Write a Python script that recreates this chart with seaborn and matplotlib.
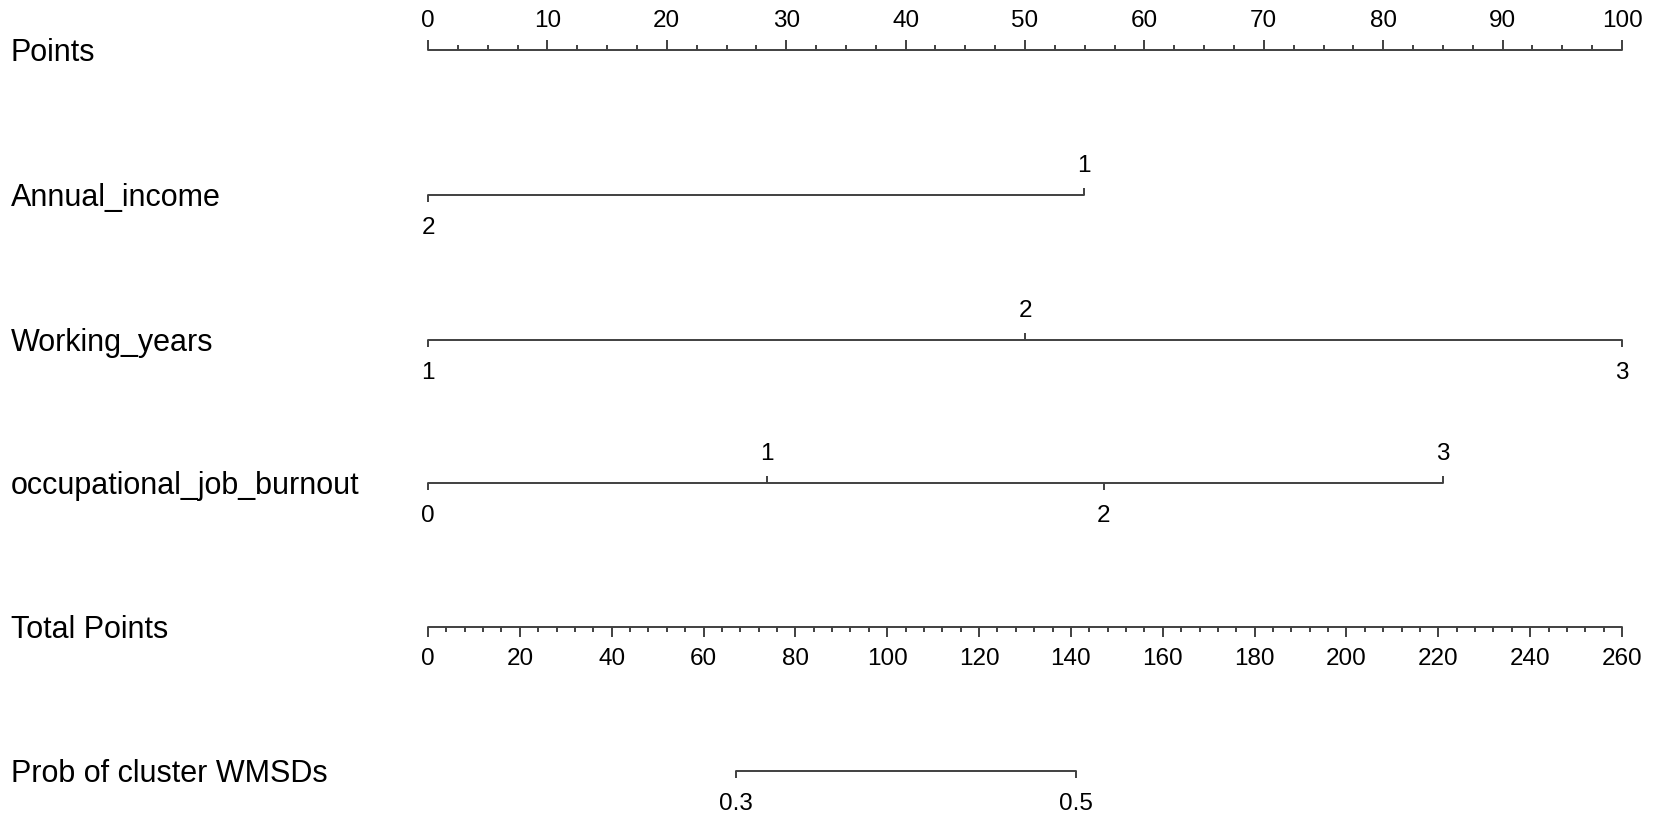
import numpy as np
import pandas as pd
import matplotlib
matplotlib.use("Agg")
import matplotlib.pyplot as plt
import seaborn as sns

sns.set_style("white")
plt.rcParams["font.family"] = ["Liberation Sans", "DejaVu Sans"]
plt.rcParams["text.color"] = "black"

# ---------------------------------------------------------
# nomogram data
# ---------------------------------------------------------
row_labels = ["Points", "Annual_income", "Working_years",
              "occupational_job_burnout", "Total Points", "Prob of cluster WMSDs"]

points_max = 100
total_points_max = 260

annual_income_levels = ["2", "1"]
annual_income_points = [0.0, 54.9]
annual_income_side = ["below", "above"]

working_years_levels = ["1", "2", "3"]
working_years_points = [0.0, 50.0, 100.0]
working_years_side = ["below", "above", "below"]

burnout_levels = ["0", "1", "2", "3"]
burnout_points = [0.0, 28.4, 56.6, 85.0]
burnout_side = ["below", "above", "below", "above"]

prob_labels = ["0.3", "0.5"]
prob_total_points = [67.1, 141.0]

# ---------------------------------------------------------
# layout (figure pixels, y measured from the top)
# ---------------------------------------------------------
W, H = 1654, 825
x0_px, x100_px = 428, 1622
px_per_pt = (x100_px - x0_px) / points_max
row_y = [50, 195, 340, 483, 627, 771]
line_color = "#404040"
lab_fs = 22
tick_fs = 17.5
lw = 1.4

fig = plt.figure(figsize=(W / 100, H / 100), dpi=100)
ax = fig.add_axes([0, 0, 1, 1])
ax.set_xlim(-x0_px / px_per_pt, (W - x0_px) / px_per_pt)
ax.set_ylim(H, 0)
ax.axis("off")


def hline(x_start, x_end, y):
    df = pd.DataFrame({"x": [x_start, x_end], "y": [y, y]})
    sns.lineplot(data=df, x="x", y="y", color=line_color, lw=lw, ax=ax,
                 estimator=None, sort=False)


def tick(x, y, length, direction):
    sign = -1 if direction == "above" else 1
    ax.plot([x, x], [y, y + sign * length], color=line_color, lw=lw,
            solid_capstyle="butt")


# row labels
for lab, y in zip(row_labels, row_y):
    ax.text(10.5 / px_per_pt - x0_px / px_per_pt, y + 3, lab, fontsize=lab_fs,
            ha="left", va="center")

# --- Points scale ---
y = row_y[0]
hline(0, points_max, y)
for v in np.arange(0, points_max + 0.1, 2.5):
    major = v % 10 == 0
    tick(v, y, 10 if major else 5, "above")
    if major:
        ax.text(v, y - 29, f"{int(v)}", fontsize=tick_fs, ha="center", va="center")


# --- categorical predictors ---
def predictor(levels, pts, sides, y):
    hline(min(pts), max(pts), y)
    for lev, p, s in zip(levels, pts, sides):
        tick(p, y, 7, s)
        dy = -29 if s == "above" else 33
        ax.text(p, y + dy, lev, fontsize=tick_fs, ha="center", va="center")


predictor(annual_income_levels, annual_income_points, annual_income_side, row_y[1])
predictor(working_years_levels, working_years_points, working_years_side, row_y[2])
predictor(burnout_levels, burnout_points, burnout_side, row_y[3])

# --- Total Points scale ---
scale = points_max / total_points_max
y = row_y[4]
hline(0, points_max, y)
for v in np.arange(0, total_points_max + 1, 4):
    major = v % 20 == 0
    tick(v * scale, y, 10 if major else 5, "below")
    if major:
        ax.text(v * scale, y + 32, f"{v}", fontsize=tick_fs, ha="center", va="center")

# --- probability scale ---
y = row_y[5]
hline(prob_total_points[0] * scale, prob_total_points[-1] * scale, y)
for lab, tp in zip(prob_labels, prob_total_points):
    tick(tp * scale, y, 7, "below")
    ax.text(tp * scale, y + 33, lab, fontsize=tick_fs, ha="center", va="center")

fig.savefig("out.png", dpi=100)
